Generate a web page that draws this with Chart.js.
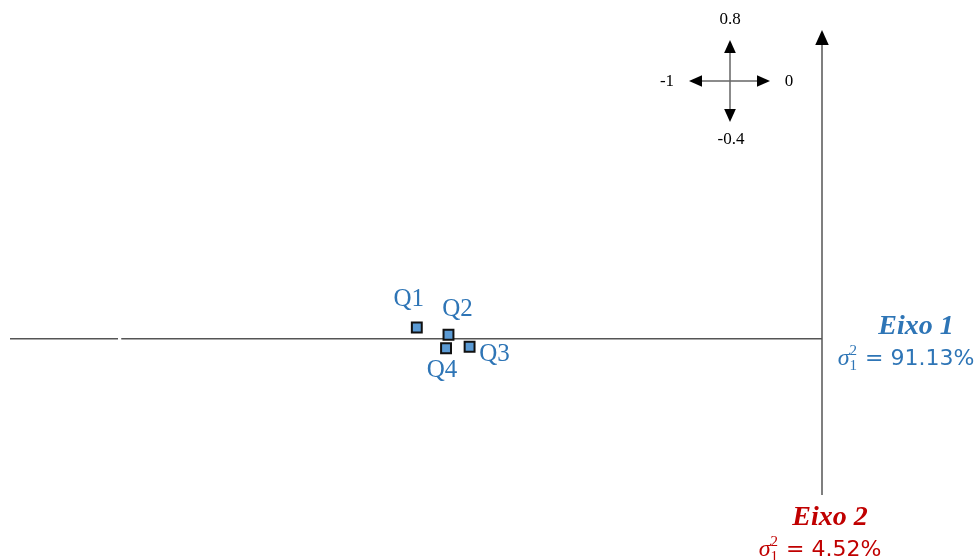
<!DOCTYPE html>
<html>
<head>
<meta charset="utf-8">
<script src="https://cdn.jsdelivr.net/npm/chart.js@4/dist/chart.umd.min.js"></script>
<style>
  html, body { margin: 0; padding: 0; background: #fff; }
  #wrap { width: 977px; height: 560px; position: relative; }
</style>
</head>
<body>
<div id="wrap"><canvas id="grafico"></canvas></div>
<script>
// dados
const categorias = ['Q1', 'Q2', 'Q3', 'Q4'];
const eixo1 = [-0.499, -0.460, -0.434, -0.463];
const eixo2 = [0.029, 0.010, -0.021, -0.025];
const limitesX = [-1, 0];
const limitesY = [-0.4, 0.8];
const rotulosBussola = ['0.8', '-1', '0', '-0.4'];
const variancias = ['91.13%', '4.52%'];

const azul = '#2e75b6';
const vermelho = '#c00000';
const linha = '#555555';

// deslocamento dos rótulos dos pontos (px)
const offsets = [[-8, -28], [9, -25], [25, 8], [-4, 22]];

function seta(ctx, x, y, dir, tam) {
    // triângulo cheio apontando em dir
    ctx.beginPath();
    if (dir == 'up') { ctx.moveTo(x, y); ctx.lineTo(x - tam * 0.45, y + tam); ctx.lineTo(x + tam * 0.45, y + tam); }
    if (dir == 'down') { ctx.moveTo(x, y); ctx.lineTo(x - tam * 0.45, y - tam); ctx.lineTo(x + tam * 0.45, y - tam); }
    if (dir == 'left') { ctx.moveTo(x, y); ctx.lineTo(x + tam, y - tam * 0.45); ctx.lineTo(x + tam, y + tam * 0.45); }
    if (dir == 'right') { ctx.moveTo(x, y); ctx.lineTo(x - tam, y - tam * 0.45); ctx.lineTo(x - tam, y + tam * 0.45); }
    ctx.closePath();
    ctx.fill();
}

function sigma(ctx, x, y, valor, cor) {
    // σ₁² = valor, centrado em x
    ctx.save();
    ctx.fillStyle = cor;
    ctx.textBaseline = 'alphabetic';
    ctx.font = 'italic 24px "Liberation Serif"';
    const wS = ctx.measureText('σ').width;
    ctx.font = '15px "Liberation Serif"';
    const wI = ctx.measureText('2').width;
    ctx.font = '22px "DejaVu Sans"';
    const resto = ' = ' + valor;
    const wR = ctx.measureText(resto).width;
    let x0 = x - (wS + wI + 1 + wR) / 2;
    ctx.font = 'italic 24px "Liberation Serif"';
    ctx.textAlign = 'left';
    ctx.fillText('σ', x0, y);
    ctx.font = '15px "Liberation Serif"';
    ctx.fillText('2', x0 + wS, y - 10);
    ctx.fillText('1', x0 + wS, y + 5);
    ctx.font = '22px "DejaVu Sans"';
    ctx.fillText(resto, x0 + wS + wI + 1, y);
    ctx.restore();
}

const eixosPlugin = {
    id: 'eixos',
    beforeDatasetsDraw(chart) {
        const ctx = chart.ctx;
        const sx = chart.scales.x, sy = chart.scales.y;
        const x0 = sx.getPixelForValue(0);
        const y0 = sy.getPixelForValue(0);
        ctx.save();
        ctx.strokeStyle = linha;
        ctx.fillStyle = '#000';
        ctx.lineWidth = 1.5;
        // eixo horizontal (com pequena falha perto da esquerda)
        ctx.beginPath();
        ctx.moveTo(sx.getPixelForValue(limitesX[0]), y0);
        ctx.lineTo(sx.getPixelForValue(-0.867), y0);
        ctx.moveTo(sx.getPixelForValue(-0.863), y0);
        ctx.lineTo(x0, y0);
        ctx.stroke();
        // eixo vertical
        const yTopo = sy.getPixelForValue(limitesY[1]);
        ctx.beginPath();
        ctx.moveTo(x0, sy.getPixelForValue(limitesY[0]) + 2);
        ctx.lineTo(x0, yTopo + 12);
        ctx.stroke();
        seta(ctx, x0, yTopo, 'up', 15);
        ctx.restore();
    },
    afterDatasetsDraw(chart) {
        const ctx = chart.ctx;
        const meta = chart.getDatasetMeta(0);
        ctx.save();
        ctx.font = '25px "Liberation Serif"';
        ctx.fillStyle = azul;
        ctx.textAlign = 'center';
        ctx.textBaseline = 'middle';
        meta.data.forEach(function (p, i) {
            ctx.fillText(categorias[i], p.x + offsets[i][0], p.y + offsets[i][1]);
        });

        // bússola
        const cx = 730, cy = 81;
        ctx.strokeStyle = '#666';
        ctx.fillStyle = '#000';
        ctx.lineWidth = 1.5;
        ctx.beginPath();
        ctx.moveTo(cx - 32, cy); ctx.lineTo(cx + 32, cy);
        ctx.moveTo(cx, cy - 32); ctx.lineTo(cx, cy + 32);
        ctx.stroke();
        seta(ctx, cx, cy - 41, 'up', 13);
        seta(ctx, cx, cy + 41, 'down', 13);
        seta(ctx, cx - 41, cy, 'left', 13);
        seta(ctx, cx + 40, cy, 'right', 13);
        ctx.font = '17px "Liberation Serif"';
        ctx.fillText(rotulosBussola[0], cx, cy - 61);
        ctx.fillText(rotulosBussola[1], cx - 63, cy + 1);
        ctx.fillText(rotulosBussola[2], cx + 59, cy + 1);
        ctx.fillText(rotulosBussola[3], cx + 1, cy + 59);

        // títulos dos eixos
        ctx.font = 'bold italic 28px "Liberation Serif"';
        ctx.fillStyle = azul;
        ctx.fillText('Eixo 1', 916, 327);
        sigma(ctx, 906, 365, variancias[0], azul);
        ctx.fillStyle = vermelho;
        ctx.fillText('Eixo 2', 830, 518);
        sigma(ctx, 820, 556, variancias[1], vermelho);
        ctx.restore();
    }
};

const ctx = document.getElementById('grafico').getContext('2d');
const grafico = new Chart(ctx, {
    type: 'scatter',
    data: {
        labels: categorias,
        datasets: [{
            label: 'Questões',
            data: categorias.map(function (c, i) { return { x: eixo1[i], y: eixo2[i] }; }),
            pointStyle: 'rect',
            pointRadius: 7,
            pointHoverRadius: 7,
            backgroundColor: '#5b9bd5',
            borderColor: '#111',
            borderWidth: 2
        }]
    },
    options: {
        responsive: true,
        maintainAspectRatio: false,
        animation: false,
        layout: { padding: { left: 10, right: 155, top: 30, bottom: 67 } },
        plugins: { legend: { display: false }, tooltip: { enabled: false } },
        scales: {
            x: { display: false, min: limitesX[0], max: limitesX[1] },
            y: { display: false, min: limitesY[0], max: limitesY[1] }
        }
    },
    plugins: [eixosPlugin]
});
</script>
</body>
</html>
